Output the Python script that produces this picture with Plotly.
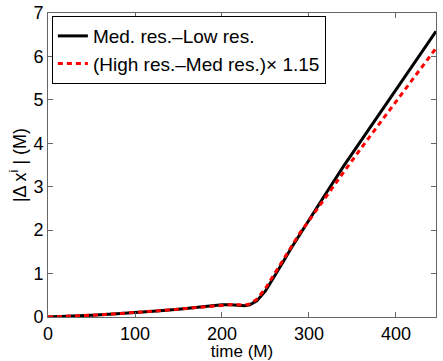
import plotly.graph_objects as go

# time (M)
time = [0, 25, 50, 75, 100, 125, 150, 175, 200, 210, 220, 226, 232, 240, 250,
        260, 270, 280, 290, 300, 320, 340, 360, 380, 400, 420, 446]

med_minus_low = [0, 0.015, 0.04, 0.07, 0.10, 0.14, 0.18, 0.23, 0.28, 0.28, 0.27,
                 0.26, 0.28, 0.37, 0.60, 0.92, 1.26, 1.60, 1.92, 2.22, 2.86, 3.48,
                 4.06, 4.65, 5.23, 5.82, 6.58]

high_minus_med = [0, 0.015, 0.04, 0.07, 0.10, 0.14, 0.18, 0.23, 0.28, 0.285, 0.28,
                  0.27, 0.30, 0.41, 0.66, 0.99, 1.32, 1.65, 1.95, 2.22, 2.79, 3.34,
                  3.89, 4.43, 4.96, 5.49, 6.19]

x_ticks = [0, 100, 200, 300, 400]
y_ticks = [0, 1, 2, 3, 4, 5, 6, 7]

fig = go.Figure()
fig.add_trace(go.Scatter(
    x=time, y=med_minus_low, mode="lines",
    name="Med. res.\u2013Low res.",
    line=dict(color="black", width=3)
))
fig.add_trace(go.Scatter(
    x=time, y=high_minus_med, mode="lines",
    name="(High res.\u2013Med res.)\u00d7 1.15",
    line=dict(color="red", width=3, dash="5px,4px")
))

axis_style = dict(
    showline=True, linecolor="#666", linewidth=1, mirror="ticks",
    ticks="inside", ticklen=5, tickcolor="#666",
    showgrid=False, zeroline=False, automargin=False,
    tickfont=dict(size=18, color="black"),
)

fig.update_xaxes(range=[0, 446], tickvals=x_ticks,
                 title=dict(text="time (M)", font=dict(size=17), standoff=0),
                 **axis_style)
fig.update_yaxes(range=[0, 7], tickvals=y_ticks,
                 title=dict(text="|\u0394 x<sup>i</sup> | (M)", font=dict(size=18), standoff=2),
                 **axis_style)

fig.update_layout(
    width=443, height=361,
    template="simple_white",
    font=dict(family="Liberation Sans, Arial", color="black"),
    margin=dict(l=48, r=7, t=13, b=44),
    plot_bgcolor="white", paper_bgcolor="white",
    legend=dict(
        x=0.01, y=0.99, xanchor="left", yanchor="top",
        bordercolor="black", borderwidth=1, bgcolor="white",
        font=dict(size=19), tracegroupgap=0, itemwidth=30,
    ),
)

fig.write_html("out.html", config={"displayModeBar": False},
               post_script="document.body.style.margin='0';")
